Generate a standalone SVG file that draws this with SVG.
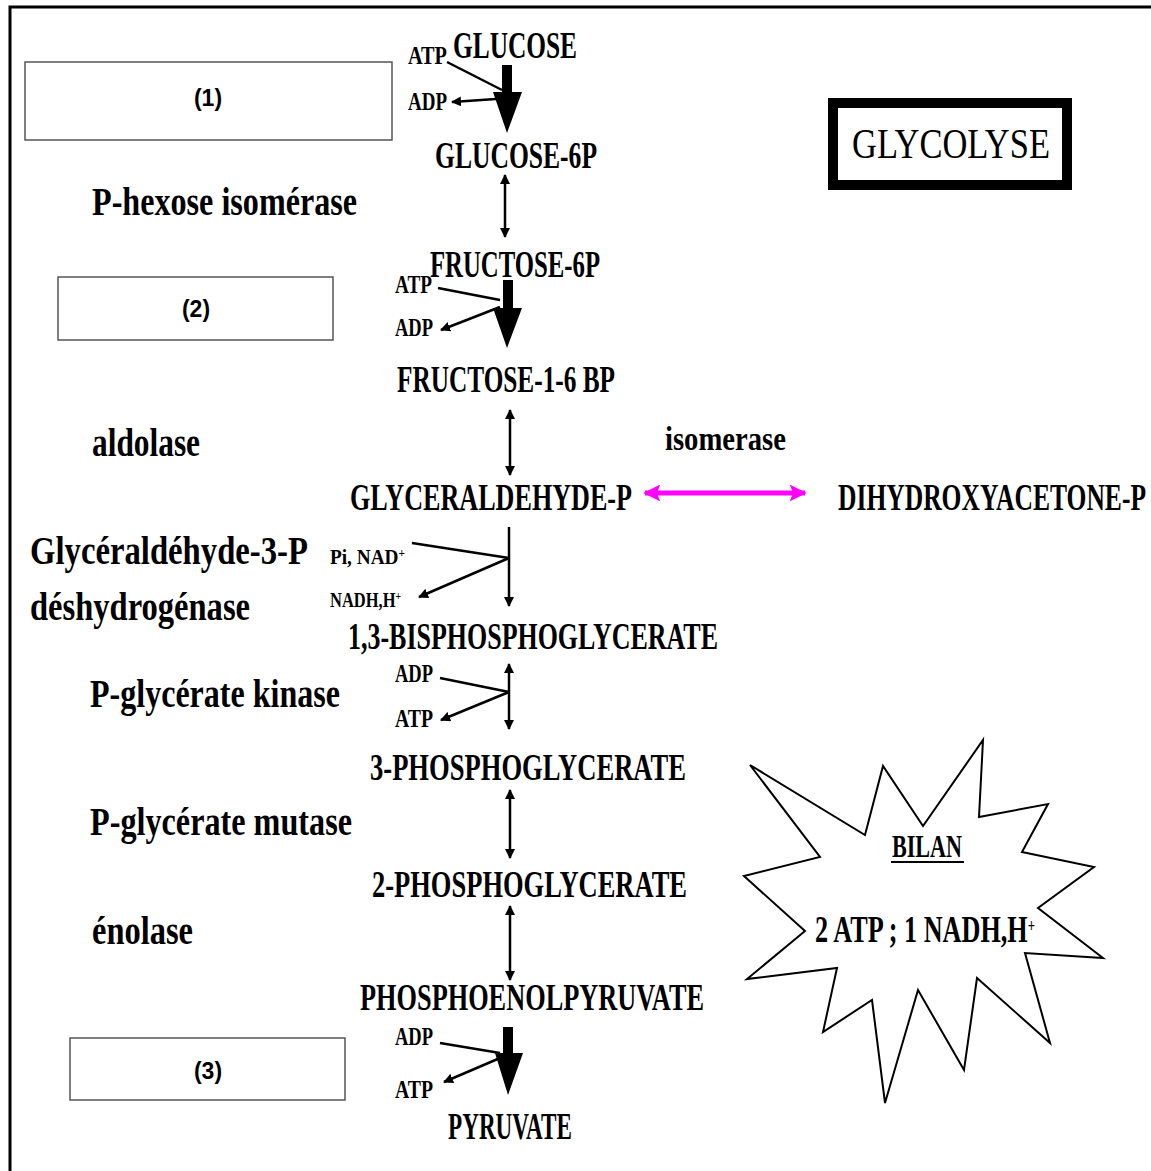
<svg xmlns="http://www.w3.org/2000/svg" width="1151" height="1171" viewBox="0 0 1151 1171">
<style>
.t{font-family:"Liberation Serif","Times New Roman",serif;font-weight:bold;fill:#000}
.m{font-size:37px}
.l{font-size:40px}
.s{font-size:25px}
.n{font-family:"Liberation Sans",Arial,sans-serif;font-weight:bold;font-size:23px;text-anchor:middle}
.ln{stroke:#000;stroke-width:2.5;fill:none}
.bx{fill:#fff;stroke:#555;stroke-width:1.5}
.sup{font-size:13px;baseline-shift:super}
</style>
<defs>
<marker id="ah" viewBox="0 0 10 10" refX="9" refY="5" markerWidth="4" markerHeight="4" orient="auto-start-reverse" markerUnits="strokeWidth">
<path d="M0,0 L10,5 L0,10 z" fill="#000"/>
</marker>
<marker id="pk" viewBox="0 0 10 10" refX="9" refY="5" markerWidth="3.4" markerHeight="3.4" orient="auto-start-reverse" markerUnits="strokeWidth">
<path d="M0,0 L10,5 L0,10 L2,5 z" fill="#ff00ff"/>
</marker>
</defs>
<rect width="1151" height="1171" fill="#fff"/>
<path d="M10,1171 V7 H1151" fill="none" stroke="#000" stroke-width="3"/>

<g id="boxes">
<g id="box1"><rect class="bx" x="25" y="62" width="367" height="78"/><text class="n" x="208" y="106">(1)</text></g>
<g id="box2"><rect class="bx" x="58" y="277" width="275" height="63"/><text class="n" x="196" y="317">(2)</text></g>
<g id="box3"><rect class="bx" x="70" y="1038" width="275" height="62"/><text class="n" x="208" y="1079">(3)</text></g>
</g>

<g id="title"><rect x="833" y="103" width="234" height="82" fill="#fff" stroke="#000" stroke-width="10"/>
<text class="t" x="852" y="158" font-size="42" textLength="198" lengthAdjust="spacingAndGlyphs" style="font-weight:normal">GLYCOLYSE</text></g>

<g id="metabolites">
<g id="glucose"><text class="t m" x="453" y="58" textLength="124" lengthAdjust="spacingAndGlyphs">GLUCOSE</text></g>
<g id="g6p"><text class="t m" x="435" y="168" textLength="162" lengthAdjust="spacingAndGlyphs">GLUCOSE-6P</text></g>
<g id="f6p"><text class="t m" x="430" y="277" textLength="170" lengthAdjust="spacingAndGlyphs">FRUCTOSE-6P</text></g>
<g id="f16bp"><text class="t m" x="397" y="392" textLength="218" lengthAdjust="spacingAndGlyphs">FRUCTOSE-1-6 BP</text></g>
<g id="gap"><text class="t m" x="350" y="510" textLength="282" lengthAdjust="spacingAndGlyphs">GLYCERALDEHYDE-P</text></g>
<g id="dhap"><text class="t m" x="838" y="510" textLength="308" lengthAdjust="spacingAndGlyphs">DIHYDROXYACETONE-P</text></g>
<g id="bpg"><text class="t m" x="348" y="649" textLength="370" lengthAdjust="spacingAndGlyphs">1,3-BISPHOSPHOGLYCERATE</text></g>
<g id="pg3"><text class="t m" x="370" y="780" textLength="316" lengthAdjust="spacingAndGlyphs">3-PHOSPHOGLYCERATE</text></g>
<g id="pg2"><text class="t m" x="372" y="897" textLength="315" lengthAdjust="spacingAndGlyphs">2-PHOSPHOGLYCERATE</text></g>
<g id="pep"><text class="t m" x="360" y="1010" textLength="344" lengthAdjust="spacingAndGlyphs">PHOSPHOENOLPYRUVATE</text></g>
<g id="pyruvate"><text class="t m" x="448" y="1139" textLength="124" lengthAdjust="spacingAndGlyphs">PYRUVATE</text></g>
</g>

<g id="enzymes">
<text class="t l" x="92" y="215" textLength="265" lengthAdjust="spacingAndGlyphs">P-hexose isomérase</text>
<text class="t l" x="92" y="456" textLength="108" lengthAdjust="spacingAndGlyphs">aldolase</text>
<text class="t" x="665" y="450" font-size="34" textLength="121" lengthAdjust="spacingAndGlyphs">isomerase</text>
<text class="t l" x="30" y="564" textLength="278" lengthAdjust="spacingAndGlyphs">Glycéraldéhyde-3-P</text>
<text class="t l" x="30" y="620" textLength="220" lengthAdjust="spacingAndGlyphs">déshydrogénase</text>
<text class="t l" x="90" y="707" textLength="250" lengthAdjust="spacingAndGlyphs">P-glycérate kinase</text>
<text class="t l" x="90" y="835" textLength="262" lengthAdjust="spacingAndGlyphs">P-glycérate mutase</text>
<text class="t l" x="92" y="944" textLength="101" lengthAdjust="spacingAndGlyphs">énolase</text>
</g>

<g id="cofactors">
<text class="t s" x="408" y="64" textLength="39" lengthAdjust="spacingAndGlyphs">ATP</text>
<text class="t s" x="408" y="110" textLength="39" lengthAdjust="spacingAndGlyphs">ADP</text>
<text class="t s" x="395" y="293" textLength="37" lengthAdjust="spacingAndGlyphs">ATP</text>
<text class="t s" x="395" y="336" textLength="38" lengthAdjust="spacingAndGlyphs">ADP</text>
<text class="t" x="330" y="564" font-size="22" textLength="75" lengthAdjust="spacingAndGlyphs">Pi, NAD<tspan class="sup">+</tspan></text>
<text class="t" x="330" y="607" font-size="22" textLength="71" lengthAdjust="spacingAndGlyphs">NADH,H<tspan class="sup">+</tspan></text>
<text class="t s" x="395" y="682" textLength="38" lengthAdjust="spacingAndGlyphs">ADP</text>
<text class="t s" x="395" y="727" textLength="38" lengthAdjust="spacingAndGlyphs">ATP</text>
<text class="t s" x="395" y="1045" textLength="38" lengthAdjust="spacingAndGlyphs">ADP</text>
<text class="t s" x="395" y="1098" textLength="38" lengthAdjust="spacingAndGlyphs">ATP</text>
</g>

<g id="connectors">
<path d="M502,65 H512 V92 H522 L507,133 L493,92 H502 Z" fill="#000"/>
<line class="ln" x1="447" y1="62" x2="502" y2="90"/>
<line class="ln" x1="496" y1="99" x2="452" y2="102" marker-end="url(#ah)"/>
<line class="ln" x1="505" y1="175" x2="505" y2="237" marker-start="url(#ah)" marker-end="url(#ah)"/>
<path d="M503,280 H513 V308 H522 L507,348 L493,308 H503 Z" fill="#000"/>
<line class="ln" x1="438" y1="288" x2="500" y2="300"/>
<line class="ln" x1="500" y1="307" x2="441" y2="330" marker-end="url(#ah)"/>
<line class="ln" x1="510" y1="410" x2="510" y2="475" marker-start="url(#ah)" marker-end="url(#ah)"/>
<line x1="645" y1="493" x2="805" y2="493" stroke="#ff00ff" stroke-width="5" marker-start="url(#pk)" marker-end="url(#pk)"/>
<line class="ln" x1="509" y1="527" x2="509" y2="606" marker-end="url(#ah)"/>
<line class="ln" x1="412" y1="543" x2="509" y2="558"/>
<line class="ln" x1="509" y1="558" x2="419" y2="597" marker-end="url(#ah)"/>
<line class="ln" x1="509" y1="664" x2="509" y2="729" marker-start="url(#ah)" marker-end="url(#ah)"/>
<line class="ln" x1="440" y1="678" x2="509" y2="692"/>
<line class="ln" x1="509" y1="692" x2="441" y2="720" marker-end="url(#ah)"/>
<line class="ln" x1="510" y1="790" x2="510" y2="858" marker-start="url(#ah)" marker-end="url(#ah)"/>
<line class="ln" x1="510" y1="906" x2="510" y2="980" marker-start="url(#ah)" marker-end="url(#ah)"/>
<path d="M503,1027 H513 V1053 H523 L508,1095 L495,1053 H503 Z" fill="#000"/>
<line class="ln" x1="440" y1="1043" x2="500" y2="1053"/>
<line class="ln" x1="500" y1="1058" x2="444" y2="1082" marker-end="url(#ah)"/>
</g>

<g id="bilan">
<polygon points="750,765 865,835 883,766 923,826 983,740 979,817 1048,804 1022,852 1094,867 1038,908 1103,958 1025,953 1050,1043 977,978 964,1070 918,990 885,1103 872,1000 823,1032 837,968 747,979 805,931 744,876 820,857" fill="#fff" stroke="#000" stroke-width="2"/>
<text class="t" x="892" y="857" font-size="31" textLength="70" lengthAdjust="spacingAndGlyphs">BILAN</text>
<line x1="891" y1="862" x2="964" y2="862" stroke="#000" stroke-width="2"/>
<text class="t" x="815" y="942" font-size="37" textLength="220" lengthAdjust="spacingAndGlyphs">2 ATP ; 1 NADH,H<tspan style="font-size:18px;baseline-shift:super">+</tspan></text>
</g>
</svg>
